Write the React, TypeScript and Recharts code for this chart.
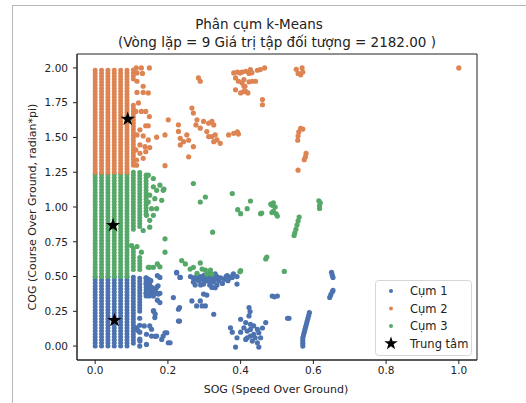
import {
  ReferenceArea,
  Scatter,
  ScatterChart,
  XAxis,
  YAxis,
} from "recharts";

// dense vertical runs of points: [SOG, COG from, COG to]
const cum1Columns: [number, number, number][] = [
  [0, 0, 0.5], [0.0175, 0, 0.5], [0.035, 0, 0.5], [0.0525, 0, 0.5],
  [0.07, 0, 0.5], [0.0875, 0, 0.5], [0.105, 0.02, 0.5], [0.1225, 0.25, 0.5],
  [0.14, 0.36, 0.5],
];
const cum3Columns: [number, number, number][] = [
  [0, 0.5, 1.25], [0.0175, 0.5, 1.25], [0.035, 0.5, 1.25], [0.0525, 0.5, 1.25],
  [0.07, 0.5, 1.25], [0.0875, 0.5, 1.25], [0.105, 0.84, 1.25], [0.105, 0.55, 0.72],
  [0.1225, 0.86, 1.25], [0.1225, 0.55, 0.65], [0.14, 0.95, 1.25],
];
const cum2Columns: [number, number, number][] = [
  [0, 1.25, 2], [0.0175, 1.25, 2], [0.035, 1.25, 2], [0.0525, 1.25, 2],
  [0.07, 1.25, 2], [0.0875, 1.25, 2], [0.105, 1.92, 2], [0.105, 1.3, 1.75],
];

const cum1Points: [number, number][] = [
  [0.1225, 0.2], [0.1225, 0.15], [0.1225, 0.1], [0.1225, 0.05], [0.1225, 0.0],
  [0.14, 0.49], [0.147, 0.48], [0.153, 0.47], [0.14, 0.45], [0.15, 0.44], [0.156, 0.42],
  [0.145, 0.41], [0.153, 0.39], [0.14, 0.38], [0.148, 0.36], [0.16, 0.36], [0.165, 0.4],
  [0.17, 0.38], [0.171, 0.506], [0.173, 0.434], [0.178, 0.38], [0.171, 0.33], [0.161, 0.253],
  [0.165, 0.23], [0.114, 0.132], [0.117, 0.113], [0.141, 0.085], [0.155, 0.072], [0.165, 0.07],
  [0.183, 0.048], [0.201, 0.024], [0.192, 0.096], [0.135, 0.145], [0.155, 0.121], [0.123, 0.036],
  [0.141, 0.012], [0.146, 0.446], [0.178, 0.494], [0.169, 0.422], [0.16, 0.374], [0.174, 0.374],
  [0.178, 0.313], [0.16, 0.253], [0.164, 0.205], [0.15, 0.145], [0.169, 0.072], [0.187, 0.072],
  [0.197, 0.096], [0.206, 0.024], [0.215, 0.349], [0.232, 0.277], [0.232, 0.18], [0.224, 0.53],
  [0.234, 0.494], [0.224, 0.526], [0.233, 0.494],
  [0.262, 0.5], [0.27, 0.49], [0.28, 0.51], [0.285, 0.47], [0.29, 0.5], [0.295, 0.48],
  [0.3, 0.46], [0.305, 0.5], [0.31, 0.52], [0.31, 0.47], [0.315, 0.44], [0.32, 0.49],
  [0.322, 0.51], [0.325, 0.46], [0.33, 0.48], [0.335, 0.5], [0.335, 0.44], [0.34, 0.47],
  [0.345, 0.49], [0.35, 0.45], [0.355, 0.48], [0.36, 0.5], [0.365, 0.47], [0.37, 0.49],
  [0.375, 0.5], [0.38, 0.52], [0.39, 0.5], [0.3, 0.49], [0.29, 0.44], [0.318, 0.5],
  [0.33, 0.52], [0.377, 0.494], [0.39, 0.446], [0.363, 0.506], [0.298, 0.374], [0.307, 0.367],
  [0.266, 0.325], [0.289, 0.325], [0.294, 0.289], [0.303, 0.289], [0.279, 0.289], [0.229, 0.265],
  [0.229, 0.18], [0.326, 0.229], [0.321, 0.422], [0.33, 0.42], [0.298, 0.446], [0.27, 0.46],
  [0.275, 0.44], [0.28, 0.48], [0.31, 0.49], [0.3, 0.51], [0.32, 0.47],
  [0.423, 0.277], [0.426, 0.248], [0.423, 0.217], [0.4, 0.193], [0.414, 0.169], [0.427, 0.157],
  [0.436, 0.145], [0.372, 0.132], [0.409, 0.132], [0.418, 0.108], [0.446, 0.12], [0.46, 0.13],
  [0.469, 0.169], [0.45, 0.096], [0.436, 0.084], [0.427, 0.072], [0.39, 0.06], [0.414, 0.048],
  [0.432, 0.036], [0.446, 0.024], [0.45, -0.007], [0.386, -0.007], [0.377, 0.1], [0.4, 0.1],
  [0.427, 0.12], [0.418, 0.06], [0.44, 0.06], [0.455, 0.06],
  [0.487, 0.36], [0.501, 0.36], [0.529, 0.2], [0.533, 0.2], [0.493, 0.354],
  [0.589, 0.24], [0.587, 0.22], [0.585, 0.2], [0.583, 0.18], [0.581, 0.16], [0.579, 0.14],
  [0.577, 0.12], [0.575, 0.1], [0.573, 0.08], [0.571, 0.06], [0.571, 0.04], [0.571, 0.02],
  [0.571, 0.0],
  [0.65, 0.53], [0.652, 0.51], [0.654, 0.494], [0.645, 0.35], [0.648, 0.37], [0.652, 0.39],
  [0.654, 0.4],
];

const cum2Points: [number, number][] = [
  [0.113, 2.0], [0.127, 2.0], [0.149, 2.0], [0.115, 1.964], [0.13, 1.96], [0.115, 1.904],
  [0.132, 1.868], [0.115, 1.824], [0.132, 1.824], [0.146, 1.82], [0.119, 1.748], [0.112, 1.687],
  [0.127, 1.687], [0.139, 1.687], [0.149, 1.65], [0.139, 1.584], [0.146, 1.584], [0.123, 1.555],
  [0.115, 1.518], [0.132, 1.511], [0.146, 1.482], [0.123, 1.446], [0.137, 1.434], [0.15, 1.427],
  [0.112, 1.41], [0.123, 1.386], [0.139, 1.398], [0.114, 1.338], [0.132, 1.35], [0.192, 1.297],
  [0.114, 1.3], [0.169, 1.502], [0.192, 1.518], [0.201, 1.627], [0.229, 1.591], [0.229, 1.543],
  [0.234, 1.494], [0.252, 1.518], [0.243, 1.47], [0.257, 1.48], [0.234, 1.446], [0.27, 1.434],
  [0.257, 1.361], [0.266, 1.711], [0.27, 1.675], [0.28, 1.627], [0.277, 1.59], [0.284, 1.928],
  [0.289, 1.904], [0.289, 1.567], [0.298, 1.615], [0.312, 1.603], [0.321, 1.615], [0.326, 1.59],
  [0.307, 1.542], [0.312, 1.506], [0.321, 1.506], [0.33, 1.518], [0.335, 1.482], [0.344, 1.458],
  [0.326, 1.47], [0.367, 1.518], [0.381, 1.53], [0.391, 1.54], [0.394, 1.524], [0.381, 1.964],
  [0.391, 1.97], [0.398, 1.964], [0.404, 1.97], [0.427, 1.988], [0.386, 1.928], [0.394, 1.904],
  [0.404, 1.892], [0.412, 1.868], [0.4, 1.82], [0.386, 1.843], [0.408, 1.83], [0.432, 1.904],
  [0.414, 1.976], [0.423, 1.96], [0.431, 1.966], [0.446, 1.983], [0.454, 1.988], [0.466, 2.0],
  [0.409, 1.916], [0.423, 1.9], [0.441, 1.904], [0.409, 1.868], [0.414, 1.832], [0.42, 1.82],
  [0.46, 1.772], [0.46, 1.735], [0.553, 1.99], [0.558, 1.96], [0.565, 1.95], [0.571, 1.97],
  [0.569, 2.0], [0.557, 1.48], [0.558, 1.51], [0.56, 1.54], [0.565, 1.566], [0.571, 1.56],
  [0.575, 1.34], [0.578, 1.36], [0.58, 1.385], [0.558, 1.265], [1.0, 2.0],
];

const cum3Points: [number, number][] = [
  [0.146, 1.229], [0.16, 1.205], [0.178, 1.157], [0.187, 1.12], [0.169, 1.12], [0.15, 1.085],
  [0.164, 1.06], [0.146, 1.036], [0.155, 0.988], [0.141, 0.94], [0.15, 0.904], [0.132, 0.831],
  [0.1, 0.723], [0.115, 0.716], [0.127, 0.675], [0.192, 0.771], [0.192, 0.675], [0.146, 0.566],
  [0.16, 0.566], [0.178, 0.57], [0.16, 1.145], [0.189, 1.128], [0.183, 1.048], [0.169, 0.988],
  [0.16, 0.94], [0.15, 0.855], [0.27, 1.169], [0.303, 1.072], [0.289, 1.036], [0.377, 1.097],
  [0.427, 1.043], [0.392, 0.981], [0.4, 0.952], [0.418, 0.988], [0.455, 0.952], [0.458, 0.957],
  [0.483, 1.02], [0.49, 1.03], [0.495, 1.0], [0.49, 0.97], [0.498, 0.95], [0.501, 0.935],
  [0.486, 0.96], [0.487, 1.012], [0.323, 0.819], [0.469, 0.627], [0.472, 0.64], [0.238, 0.615],
  [0.248, 0.591], [0.261, 0.554], [0.27, 0.566], [0.289, 0.598], [0.294, 0.554], [0.303, 0.547],
  [0.317, 0.547], [0.321, 0.518], [0.307, 0.518], [0.28, 0.523], [0.398, 0.535], [0.171, 0.591],
  [0.15, 0.566], [0.617, 0.99], [0.617, 1.01], [0.619, 1.03], [0.615, 1.045], [0.561, 0.928],
  [0.558, 0.9], [0.555, 0.87], [0.552, 0.84], [0.549, 0.815], [0.547, 0.795], [0.52, 0.537],
  [0.4, 0.542],
];

// cluster centres (Cụm 1, Cụm 2, Cụm 3)
const centroids: [number, number][] = [
  [0.053, 0.186],
  [0.0895, 1.632],
  [0.049, 0.868],
];

const xTicks = [0, 0.2, 0.4, 0.6, 0.8, 1.0];
const yTicks = [0, 0.25, 0.5, 0.75, 1.0, 1.25, 1.5, 1.75, 2.0];

const BLUE = "#4c72b0";
const ORANGE = "#dd8452";
const GREEN = "#55a868";
const FONT = "DejaVu Sans, sans-serif";

const toRows = (pts: [number, number][]) => pts.map(([x, y]) => ({ x, y }));

const dot = (color: string) => (props: any) =>
  <circle cx={props.cx} cy={props.cy} r={2.6} fill={color} />;

function starPath(cx: number, cy: number, outer: number, inner: number) {
  const pts: string[] = [];
  for (let i = 0; i < 10; i++) {
    const r = i % 2 === 0 ? outer : inner;
    const a = -Math.PI / 2 + (i * Math.PI) / 5;
    pts.push(`${cx + r * Math.cos(a)},${cy + r * Math.sin(a)}`);
  }
  return pts.join(" ");
}

const starShape = (props: any) => (
  <polygon points={starPath(props.cx, props.cy, 7.5, 3)} fill="#000" />
);

function columnSeries(cols: [number, number, number][], color: string, key: string) {
  return cols.map(([x, y0, y1], i) => (
    <Scatter
      key={`${key}-${i}`}
      data={[{ x, y: y0 }, { x, y: y1 }]}
      line={{
        stroke: color,
        strokeWidth: 5,
        strokeLinecap: "round",
        strokeDasharray: "0 3",
      }}
      shape={() => <g />}
      isAnimationActive={false}
      legendType="none"
    />
  ));
}

const legendItems = [
  { label: "Cụm 1", color: BLUE },
  { label: "Cụm 2", color: ORANGE },
  { label: "Cụm 3", color: GREEN },
];

export default function App() {
  return (
    <div
      style={{
        position: "absolute",
        left: 0,
        top: 0,
        width: 526,
        height: 403,
        background: "#fff",
        overflow: "hidden",
      }}
    >
      <div
        style={{
          position: "absolute",
          left: 12,
          top: 5,
          width: 520,
          height: 410,
          borderTop: "1.5px solid #b8b8b8",
          borderLeft: "1.5px solid #b8b8b8",
        }}
      />
      <ScatterChart
        width={526}
        height={403}
        margin={{ top: 54, right: 49, bottom: 13, left: 17 }}
        style={{ position: "absolute", left: 0, top: 0, fontFamily: FONT }}
      >
        <text x={259} y={29} textAnchor="middle" fontSize={13.5} fill="#222">
          Phân cụm k-Means
        </text>
        <text x={277} y={46.5} textAnchor="middle" fontSize={13.5} fill="#222">
          (Vòng lặp = 9 Giá trị tập đối tượng = 2182.00 )
        </text>
        <XAxis
          type="number"
          dataKey="x"
          domain={[-0.05, 1.05]}
          ticks={xTicks}
          tickFormatter={(v: number) => v.toFixed(1)}
          height={30}
          tickSize={4}
          tickMargin={3}
          tick={{ fontSize: 10.5, fill: "#222", fontFamily: FONT }}
          stroke="#222"
          allowDataOverflow
        />
        <YAxis
          type="number"
          dataKey="y"
          domain={[-0.1, 2.1]}
          ticks={yTicks}
          tickFormatter={(v: number) => v.toFixed(2)}
          width={60}
          tickSize={4}
          tickMargin={5}
          tick={{ fontSize: 10.5, fill: "#222", fontFamily: FONT }}
          stroke="#222"
          allowDataOverflow
        />
        <ReferenceArea
          x1={-0.05}
          x2={1.05}
          y1={-0.1}
          y2={2.1}
          fill="none"
          stroke="#222"
          strokeWidth={1}
        />
        {columnSeries(cum1Columns, BLUE, "c1")}
        {columnSeries(cum3Columns, GREEN, "c3")}
        {columnSeries(cum2Columns, ORANGE, "c2")}
        <Scatter data={toRows(cum1Points)} shape={dot(BLUE)} isAnimationActive={false} />
        <Scatter data={toRows(cum2Points)} shape={dot(ORANGE)} isAnimationActive={false} />
        <Scatter data={toRows(cum3Points)} shape={dot(GREEN)} isAnimationActive={false} />
        <Scatter data={toRows(centroids)} shape={starShape} isAnimationActive={false} />
        <text
          x={32}
          y={207}
          transform="rotate(-90 32 207)"
          textAnchor="middle"
          dominantBaseline="central"
          fontSize={11}
          fill="#222"
        >
          COG (Course Over Ground, radian*pi)
        </text>
        <text
          x={276}
          y={389}
          textAnchor="middle"
          dominantBaseline="central"
          fontSize={11}
          fill="#222"
        >
          SOG (Speed Over Ground)
        </text>
        <g>
          <rect
            x={375.5}
            y={280.5}
            width={96}
            height={75}
            rx={3}
            fill="#fff"
            fillOpacity={0.8}
            stroke="#d6d6d6"
          />
          {legendItems.map((it, i) => (
            <g key={it.label}>
              <circle cx={391} cy={291 + i * 17.5} r={2} fill={it.color} />
              <text
                x={410}
                y={291 + i * 17.5}
                dominantBaseline="central"
                fontSize={11.5}
                fill="#222"
              >
                {it.label}
              </text>
            </g>
          ))}
          <polygon points={starPath(391, 343.5, 7, 2.8)} fill="#000" />
          <text x={410} y={343.5} dominantBaseline="central" fontSize={11.5} fill="#222">
            Trung tâm
          </text>
        </g>
      </ScatterChart>
    </div>
  );
}
